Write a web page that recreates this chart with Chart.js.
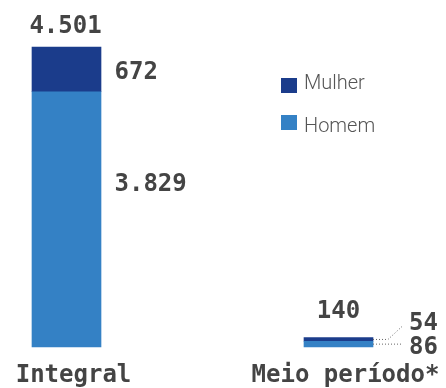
<!DOCTYPE html>
<html>
<head>
<meta charset="utf-8">
<script src="https://cdn.jsdelivr.net/npm/chart.js@4/dist/chart.umd.min.js"></script>
<style>
  html, body { margin: 0; padding: 0; background: #fff; }
  #wrap { width: 446px; height: 388px; }
</style>
</head>
<body>
<div id="wrap"><canvas id="c" width="446" height="388"></canvas></div>
<script>
const categories = ['Integral', 'Meio período*'];
const mulher = [672, 54];
const homem = [3829, 86];
const totals = [4501, 140];
const fmt = v => v.toLocaleString('pt-BR');

const colMulher = '#1B3C8B';
const colHomem = '#3481C5';
const textCol = '#444444';
const monoFont = 'bold 24px "DejaVu Sans Mono", monospace';

const labelsPlugin = {
  id: 'labels',
  afterDatasetsDraw(chart) {
    const ctx = chart.ctx;
    const hMeta = chart.getDatasetMeta(0); // Homem (bottom)
    const wMeta = chart.getDatasetMeta(1); // Mulher (top)
    ctx.save();
    ctx.fillStyle = textCol;
    ctx.font = monoFont;
    ctx.textBaseline = 'middle';

    // totals above bars
    ctx.textAlign = 'center';
    const e0w = wMeta.data[0], e0h = hMeta.data[0];
    const e1w = wMeta.data[1], e1h = hMeta.data[1];
    ctx.fillText(fmt(totals[0]), e0w.x - 1, e0w.y - 20.5);
    ctx.fillText(fmt(totals[1]), e1w.x, e1w.y - 26);

    // Integral segment values to the right of the bar
    ctx.textAlign = 'left';
    ctx.fillText(fmt(mulher[0]), e0w.x + 48, (e0w.y + e0w.base) / 2 + 3);
    ctx.fillText(fmt(homem[0]), e0h.x + 48, e0h.y + 92.5);

    // Meio período: thin segments, values pulled out with dotted leaders
    const right = e1w.x + e1w.width / 2;
    const yW = (e1w.y + e1w.base) / 2;
    const yH = (e1h.y + e1h.base) / 2;
    ctx.save();
    ctx.strokeStyle = '#666';
    ctx.lineWidth = 1;
    ctx.setLineDash([1, 2]);
    ctx.beginPath();
    ctx.moveTo(right, yW);
    ctx.lineTo(right + 15, yW);
    ctx.lineTo(right + 29, yW - 13);
    ctx.moveTo(right, yH);
    ctx.lineTo(right + 29, yH);
    ctx.stroke();
    ctx.restore();
    ctx.fillText(fmt(mulher[1]), right + 36, 324);
    ctx.fillText(fmt(homem[1]), right + 36, 348);

    // category labels under bars
    ctx.textAlign = 'center';
    const base = e0h.base;
    hMeta.data.forEach((el, i) => {
      ctx.fillText(categories[i], el.x + 7, base + 28.5);
    });

    // legend
    const legend = [['Mulher', colMulher, 85, 84], ['Homem', colHomem, 122, 127]];
    ctx.font = '300 20px Roboto, sans-serif';
    ctx.textAlign = 'left';
    legend.forEach(([name, col, y, ty]) => {
      ctx.fillStyle = col;
      ctx.fillRect(281, y - 7, 16, 15);
      ctx.fillStyle = '#555';
      ctx.fillText(name, 304, ty);
    });
    ctx.restore();
  }
};

new Chart(document.getElementById('c'), {
  type: 'bar',
  data: {
    labels: categories,
    datasets: [
      { label: 'Homem', data: homem, backgroundColor: colHomem, clip: false },
      { label: 'Mulher', data: mulher, backgroundColor: colMulher, clip: false }
    ]
  },
  options: {
    responsive: false,
    animation: false,
    events: [],
    layout: { padding: { left: 66.5, right: 107.5, top: 47, bottom: 41 } },
    datasets: { bar: { barThickness: 69 } },
    plugins: { legend: { display: false }, tooltip: { enabled: false } },
    scales: {
      x: { stacked: true, display: false, offset: false },
      y: { stacked: true, display: false, min: 0, max: 4501 }
    }
  },
  plugins: [labelsPlugin]
});
</script>
</body>
</html>
